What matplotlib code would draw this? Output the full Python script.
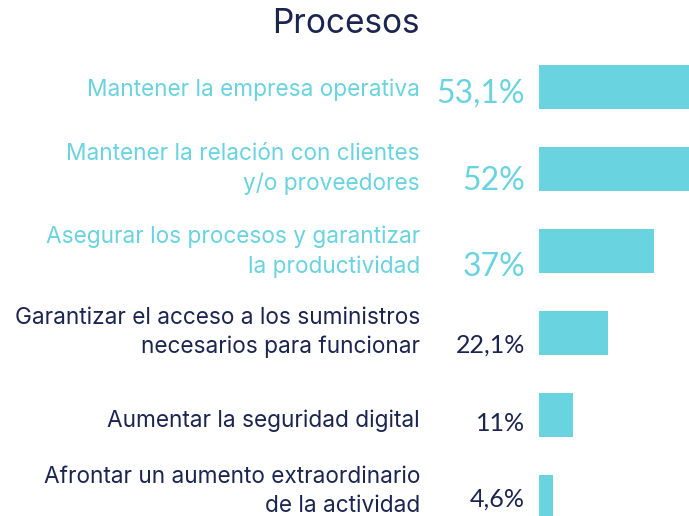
import matplotlib.pyplot as plt
import numpy as np

# data
labels = ['Mantener la empresa operativa',
          'Mantener la relación con clientes\ny/o proveedores',
          'Asegurar los procesos y garantizar\nla productividad',
          'Garantizar el acceso a los suministros\nnecesarios para funcionar',
          'Aumentar la seguridad digital',
          'Afrontar un aumento extraordinario\nde la actividad']
values = [53.1, 52, 37, 22.1, 11, 4.6]
value_labels = ['53,1%', '52%', '37%', '22,1%', '11%', '4,6%']
highlight = [True, True, True, False, False, False]

teal = '#69d3df'
navy = '#1b2550'

# layout (pixels): baseline shift of the last label line / of the value, per row
label_dy = [9, 21, 22, 20, 12, 15]
value_dy = [16, 21, 25, 20, 16, 10]

plt.rcParams['font.family'] = ['Inter', 'DejaVu Sans']

W, H = 689, 516
fig = plt.figure(figsize=(W / 100, H / 100), dpi=100)

# bars axis: starts at x=539px and runs to the right edge, bars get clipped there
x0 = 539
ax = fig.add_axes([x0 / W, 0, 1 - x0 / W, 1])
px_per_pct = 3.12
ax.set_xlim(0, (W - x0) / px_per_pct)
step = 82.0   # px between rows
first = 87.0  # px centre of first row
ax.set_ylim((H - first) / step, -first / step)
y = np.arange(len(values))
ax.barh(y, values, height=44 / step, color=teal)
ax.axis('off')

pt = 0.72  # px -> points
for i, (lab, val, hl) in enumerate(zip(labels, value_labels, highlight)):
    col = teal if hl else navy
    ax.annotate(lab, xy=(0, i), xytext=(-(x0 - 420) * pt, -label_dy[i] * pt),
                textcoords='offset points', ha='right', va='baseline',
                fontsize=16.3, color=col, linespacing=1.4, annotation_clip=False)
    ax.annotate(val, xy=(0, i), xytext=(-(x0 - 525) * pt, -value_dy[i] * pt),
                textcoords='offset points', ha='right', va='baseline',
                fontsize=23 if hl else 18, color=col, family=['Lato', 'DejaVu Sans'],
                annotation_clip=False)

fig.text(420 / W, 1 - 33 / H, 'Procesos', ha='right', va='baseline',
         fontsize=24, color=navy)

fig.savefig('out.png', dpi=100)
